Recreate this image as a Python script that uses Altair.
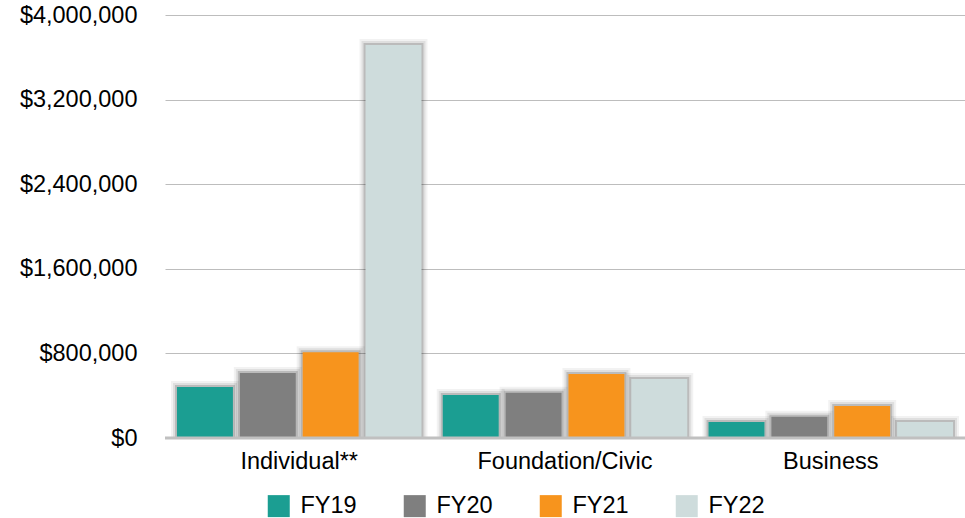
import altair as alt
import pandas as pd

categories = ["Individual**", "Foundation/Civic", "Business"]
years = ["FY19", "FY20", "FY21", "FY22"]
fy19 = [482000, 407000, 151000]
fy20 = [615000, 427000, 200000]
fy21 = [812000, 605000, 303000]
fy22 = [3716000, 558000, 151000]
colors = ["#1B9E92", "#7F7F7F", "#F7941D", "#CEDCDC"]
y_ticks = [0, 800000, 1600000, 2400000, 3200000, 4000000]

rows = []
for series_name, vals in zip(years, [fy19, fy20, fy21, fy22]):
    for c, v in zip(categories, vals):
        rows.append({"Category": c, "Year": series_name, "Value": v})
df = pd.DataFrame(rows)

FONT = "Liberation Sans"

x_enc = alt.X("Category:N", sort=categories, title=None,
              scale=alt.Scale(paddingInner=0.08, paddingOuter=0.045),
              axis=alt.Axis(labelFontSize=23.5, labelFont=FONT, labelColor="#000000",
                            ticks=False, domain=False, labelPadding=11, labelAngle=0))
xo_enc = alt.XOffset("Year:N", sort=years,
                     scale=alt.Scale(paddingInner=0.11, paddingOuter=0))
y_enc = alt.Y("Value:Q", title=None,
              scale=alt.Scale(domain=[0, 4000000], nice=False),
              axis=alt.Axis(values=y_ticks, format="$,.0f", labelFontSize=23.5,
                            labelFont=FONT, labelColor="#000000", ticks=False,
                            domain=False, labelPadding=28, gridColor="#BDBDBD",
                            gridWidth=1))

base = alt.Chart(df)

shadows = []
for sw, so in [(12, 0.05), (8, 0.08), (4, 0.16)]:
    shadows.append(
        base.mark_bar(fill="transparent", stroke="#000000", strokeWidth=sw,
                      strokeOpacity=so, clip=True).encode(x=x_enc, xOffset=xo_enc, y=y_enc)
    )

bars = base.mark_bar(clip=True).encode(
    x=x_enc, xOffset=xo_enc, y=y_enc,
    color=alt.Color("Year:N", sort=years,
                    scale=alt.Scale(domain=years, range=colors),
                    legend=alt.Legend(title=None, orient="none", legendX=102, legendY=479,
                                      direction="horizontal", symbolType="square",
                                      symbolSize=484, symbolStrokeWidth=0,
                                      labelFontSize=23.5, labelFont=FONT,
                                      labelColor="#000000", labelOffset=10,
                                      columnPadding=46, padding=0)),
)

baseline = alt.Chart(pd.DataFrame({"Value": [0]})).mark_rule(
    color="#C0C0C0", strokeWidth=3).encode(y=y_enc)

chart = alt.layer(*shadows, bars, baseline).properties(
    width=800, height=423,
    background="#FFFFFF",
    autosize=alt.AutoSizeParams(type="none"),
    padding={"left": 165, "top": 15, "right": 0, "bottom": 80},
).configure_view(stroke="transparent", strokeWidth=0)

chart.save("out.html", embed_options={"renderer": "svg", "actions": False})
